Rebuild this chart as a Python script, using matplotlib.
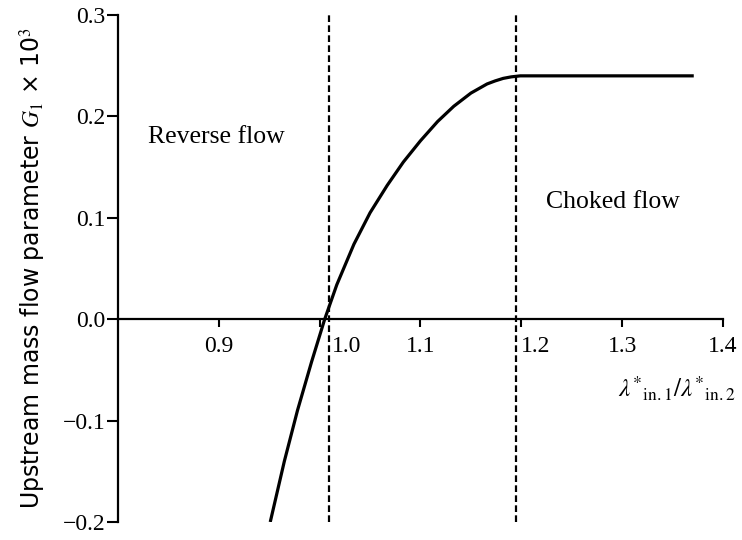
import matplotlib
matplotlib.use("Agg")
import matplotlib.pyplot as plt
import matplotlib.transforms as mtransforms

# inlet ratio lambda*_in.1 / lambda*_in.2 vs upstream mass flow parameter G1 (x 10^3)
ratio = [0.951, 0.965, 0.978, 0.992, 1.005, 1.017, 1.034, 1.050, 1.067, 1.083,
         1.100, 1.117, 1.133, 1.150, 1.166, 1.174, 1.182, 1.190, 1.199, 1.250,
         1.300, 1.371]
g1 = [-0.200, -0.140, -0.090, -0.042, 0.000, 0.034, 0.074, 0.105, 0.132, 0.155,
      0.176, 0.195, 0.210, 0.223, 0.232, 0.235, 0.2375, 0.239, 0.240, 0.240,
      0.240, 0.240]

# region boundaries
reverse_limit = 1.009
choke_limit = 1.195

xticks = [0.9, 1.0, 1.1, 1.2, 1.3, 1.4]
xtick_labels = ["0.9", "1.0", "1.1", "1.2", "1.3", "1.4"]
yticks = [-0.2, -0.1, 0.0, 0.1, 0.2, 0.3]
ytick_labels = ["\u22120.2", "\u22120.1", "0.0", "0.1", "0.2", "0.3"]

plt.rcParams['mathtext.fontset'] = 'stix'
serif = ['Liberation Serif', 'DejaVu Serif']

fig = plt.figure(figsize=(7.42, 5.4), dpi=100)
ax = fig.add_axes([0.159, 0.0333, 0.8154, 0.9389])

ax.plot(ratio, g1, color='black', lw=2.3, solid_joinstyle='round', solid_capstyle='butt')
for xv in (reverse_limit, choke_limit):
    ax.axvline(xv, color='black', lw=1.6, ls=(0, (3, 1.5)))

ax.set_xlim(0.8, 1.4)
ax.set_ylim(-0.2, 0.3)

ax.spines['top'].set_visible(False)
ax.spines['right'].set_visible(False)
ax.spines['bottom'].set_position(('data', 0.0))
ax.spines['left'].set_linewidth(1.6)
ax.spines['bottom'].set_linewidth(1.6)

ax.set_xticks(xticks)
ax.set_xticklabels(xtick_labels, fontfamily=serif, fontsize=17)
ax.set_yticks(yticks)
ax.set_yticklabels(ytick_labels, fontfamily=serif, fontsize=17)
ax.tick_params(axis='x', direction='out', length=6, width=1.5, pad=6)
ax.tick_params(axis='y', direction='out', length=8, width=1.5, pad=1)

# push the 1.0 and 1.2 labels clear of the dashed lines
shifts = {"1.0": 27, "1.2": 14}
for lab in ax.get_xticklabels():
    dx = shifts.get(lab.get_text(), 0)
    if dx:
        off = mtransforms.ScaledTranslation(dx / 100.0, 0, fig.dpi_scale_trans)
        lab.set_transform(lab.get_transform() + off)

ax.set_ylabel("Upstream mass flow parameter $G_1$ \u00d7 10$^3$",
              fontfamily='DejaVu Sans', fontsize=17)
ax.yaxis.set_label_coords(-0.115, 0.5)

ax.set_xlabel(r"$\lambda^{*}{}_{\mathrm{in.1}}/\lambda^{*}{}_{\mathrm{in.2}}$", fontsize=18)
ax.xaxis.set_label_coords(1.02, 0.29)
ax.xaxis.label.set_horizontalalignment('right')

ax.text(0.898, 0.18, "Reverse flow", fontfamily=serif, fontsize=18.5,
        ha='center', va='center')
ax.text(1.291, 0.116, "Choked flow", fontfamily=serif, fontsize=18.5,
        ha='center', va='center')

fig.savefig("out.png", dpi=100)
